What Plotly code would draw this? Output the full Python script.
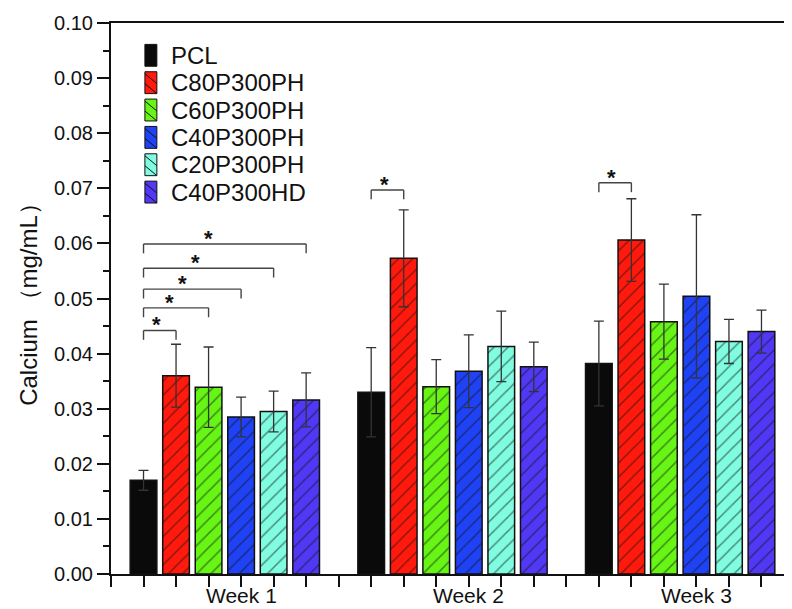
import plotly.graph_objects as go

# groups and series
weeks = ['Week 1', 'Week 2', 'Week 3']
samples = ['PCL', 'C80P300PH', 'C60P300PH', 'C40P300PH', 'C20P300PH', 'C40P300HD']
colors = ['#0a0a0a', '#ff1a0d', '#66f514', '#1f42f5', '#80fce0', '#5038f5']

# mean calcium (mg/mL) per sample, one value per week
pcl = [0.0170, 0.0330, 0.0382]
c80 = [0.0360, 0.0573, 0.0606]
c60 = [0.0339, 0.0340, 0.0458]
c40 = [0.0285, 0.0368, 0.0504]
c20 = [0.0295, 0.0413, 0.0422]
c40hd = [0.0316, 0.0376, 0.0440]

pcl_err = [0.0018, 0.0081, 0.0077]
c80_err = [0.0057, 0.0088, 0.0075]
c60_err = [0.0073, 0.0049, 0.0068]
c40_err = [0.0036, 0.0066, 0.0148]
c20_err = [0.0037, 0.0064, 0.0040]
c40hd_err = [0.0049, 0.0045, 0.0039]

means = [pcl, c80, c60, c40, c20, c40hd]
errs = [pcl_err, c80_err, c60_err, c40_err, c20_err, c40hd_err]

# significance brackets: (week index, sample a, sample b, bracket height)
sig_pairs = [
    (0, 0, 1, 0.0442),
    (0, 0, 2, 0.0483),
    (0, 0, 3, 0.0517),
    (0, 0, 4, 0.0555),
    (0, 0, 5, 0.0599),
    (1, 0, 1, 0.0697),
    (2, 0, 1, 0.0710),
]

slot = len(samples) + 1  # one empty slot between weeks


def pos(week, sample):
    return week * slot + sample + 1


fig = go.Figure()
for i, name in enumerate(samples):
    fig.add_trace(go.Bar(
        x=[pos(w, i) for w in range(len(weeks))],
        y=means[i],
        name=name,
        width=0.82,
        showlegend=False,
        marker=dict(
            color=colors[i],
            line=dict(color='#111', width=1.5),
            pattern=dict(shape='' if i == 0 else '/', fgcolor='#111',
                         size=10, solidity=0.15),
        ),
        error_y=dict(type='data', array=errs[i], color='#333',
                     thickness=1.3, width=5),
    ))

shapes = []
annotations = []
for w, a, b, h in sig_pairs:
    x0 = pos(w, a)
    x1 = pos(w, b)
    leg = 0.0017
    for xx in (x0, x1):
        shapes.append(dict(type='line', xref='x', yref='y', x0=xx, x1=xx,
                           y0=h - leg, y1=h, line=dict(color='#444', width=1.4)))
    shapes.append(dict(type='line', xref='x', yref='y', x0=x0, x1=x1,
                       y0=h, y1=h, line=dict(color='#444', width=1.4)))
    annotations.append(dict(x=x0 + (x1 - x0) * 0.4, y=h, xref='x', yref='y',
                            text='<b>*</b>', showarrow=False, yanchor='bottom',
                            yshift=-9, font=dict(size=22, color='#111')))

# legend drawn by hand so the rows sit as tight as in the original
pw, ph = 685.0, 554.0  # plot area in px
sx0, sx1 = 34 / pw, 46 / pw
for i, name in enumerate(samples):
    yc = (521.5 - 27.5 * i) / ph
    hh = 11 / ph
    shapes.append(dict(type='rect', xref='paper', yref='paper',
                       x0=sx0, x1=sx1, y0=yc - hh, y1=yc + hh,
                       fillcolor=colors[i], line=dict(color='#111', width=1)))
    if i > 0:
        for off in (9, -1):
            shapes.append(dict(type='line', xref='paper', yref='paper',
                               x0=sx0, x1=sx1,
                               y0=yc + off / ph, y1=yc + (off - 10) / ph,
                               line=dict(color='#111', width=1)))
    annotations.append(dict(x=58 / pw, y=yc, xref='paper', yref='paper',
                            text=name, showarrow=False, xanchor='left',
                            yanchor='middle', font=dict(size=24, color='#111')))

# week labels under the middle tick of each group
for w, label in enumerate(weeks):
    annotations.append(dict(x=pos(w, 3), y=0, xref='x', yref='paper',
                            text=label, showarrow=False, yanchor='middle',
                            yshift=-21, font=dict(size=21, color='#111')))

fig.update_layout(
    width=792, height=609,
    margin=dict(l=103, r=4, t=12, b=43),
    paper_bgcolor='white', plot_bgcolor='white',
    font=dict(family='Arial, Liberation Sans', color='#111'),
    barmode='overlay',
    showlegend=False,
    shapes=shapes,
    annotations=annotations,
)
fig.update_xaxes(
    range=[0, slot * len(weeks)],
    tickvals=list(range(0, slot * len(weeks))), showticklabels=False,
    ticks='outside', ticklen=11, tickwidth=1.5, tickcolor='#111',
    showline=True, linecolor='#111', linewidth=2, mirror=True,
    showgrid=False, zeroline=False,
)
fig.update_yaxes(
    range=[0, 0.1], dtick=0.01, tickformat='.2f',
    ticks='outside', ticklen=12, tickwidth=1.5, tickcolor='#111',
    minor=dict(dtick=0.005, ticks='outside', ticklen=6, tickcolor='#111'),
    tickfont=dict(size=20),
    title=dict(text='Calcium （mg/mL）', font=dict(size=24), standoff=10),
    showline=True, linecolor='#111', linewidth=2, mirror=True,
    showgrid=False, zeroline=False,
)

fig.write_html('out.html')
